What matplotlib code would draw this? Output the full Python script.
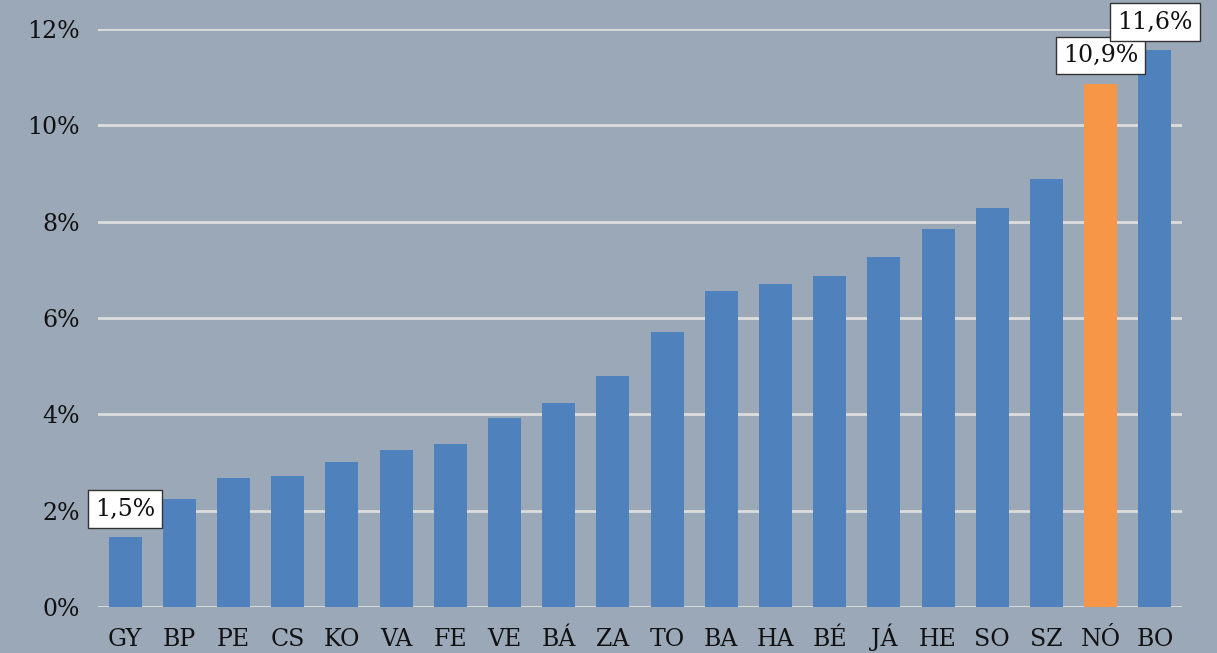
import matplotlib
matplotlib.use("Agg")
import matplotlib.pyplot as plt
from matplotlib.ticker import FuncFormatter

categories = ["GY", "BP", "PE", "CS", "KO", "VA", "FE", "VE", "BÁ", "ZA",
              "TO", "BA", "HA", "BÉ", "JÁ", "HE", "SO", "SZ", "NÓ", "BO"]
values = [1.45, 2.24, 2.68, 2.72, 3.01, 3.26, 3.38, 3.92, 4.24, 4.80,
          5.71, 6.56, 6.71, 6.87, 7.27, 7.85, 8.28, 8.89, 10.86, 11.56]
highlight = "NÓ"
labeled = {"GY": "1,5%", "NÓ": "10,9%", "BO": "11,6%"}
yticks = [0, 2, 4, 6, 8, 10, 12]

bg = "#9BA8B8"
blue = "#4F81BD"
orange = "#F79646"

plt.rcParams['font.family'] = ['DejaVu Serif']

W, H = 1217, 653
fig = plt.figure(figsize=(W/100, H/100), dpi=100, facecolor=bg)
ax = fig.add_axes([98/W, (H-607)/H, (1182-98)/W, (607-29)/H])
ax.set_facecolor(bg)

x = list(range(len(categories)))
colors = [orange if c == highlight else blue for c in categories]
ax.bar(x, values, width=0.61, color=colors, zorder=3)

ax.set_xlim(-0.5, len(categories) - 0.5)
ax.set_ylim(0, 12)
ax.set_yticks(yticks)
ax.yaxis.set_major_formatter(FuncFormatter(lambda v, p: f"{int(v)}%"))
ax.set_xticks(x)
ax.set_xticklabels(categories, va='baseline')
ax.grid(axis='y', color='#DDDDDD', linewidth=2, zorder=1)
ax.set_axisbelow(True)
for s in ax.spines.values():
    s.set_visible(False)
ax.tick_params(axis='both', length=0, labelsize=17, colors='#111111')
ax.tick_params(axis='x', pad=28)
ax.tick_params(axis='y', pad=13)

for i, (c, v) in enumerate(zip(categories, values)):
    if c in labeled:
        ax.annotate(labeled[c], (i, v), xytext=(0, 12), textcoords='offset points',
                    ha='center', va='bottom', fontsize=17, color='#111111',
                    bbox=dict(boxstyle='square,pad=0.3', fc='white', ec='#333333', lw=1),
                    zorder=5, annotation_clip=False)

fig.savefig("out.png", dpi=100, facecolor=bg)
